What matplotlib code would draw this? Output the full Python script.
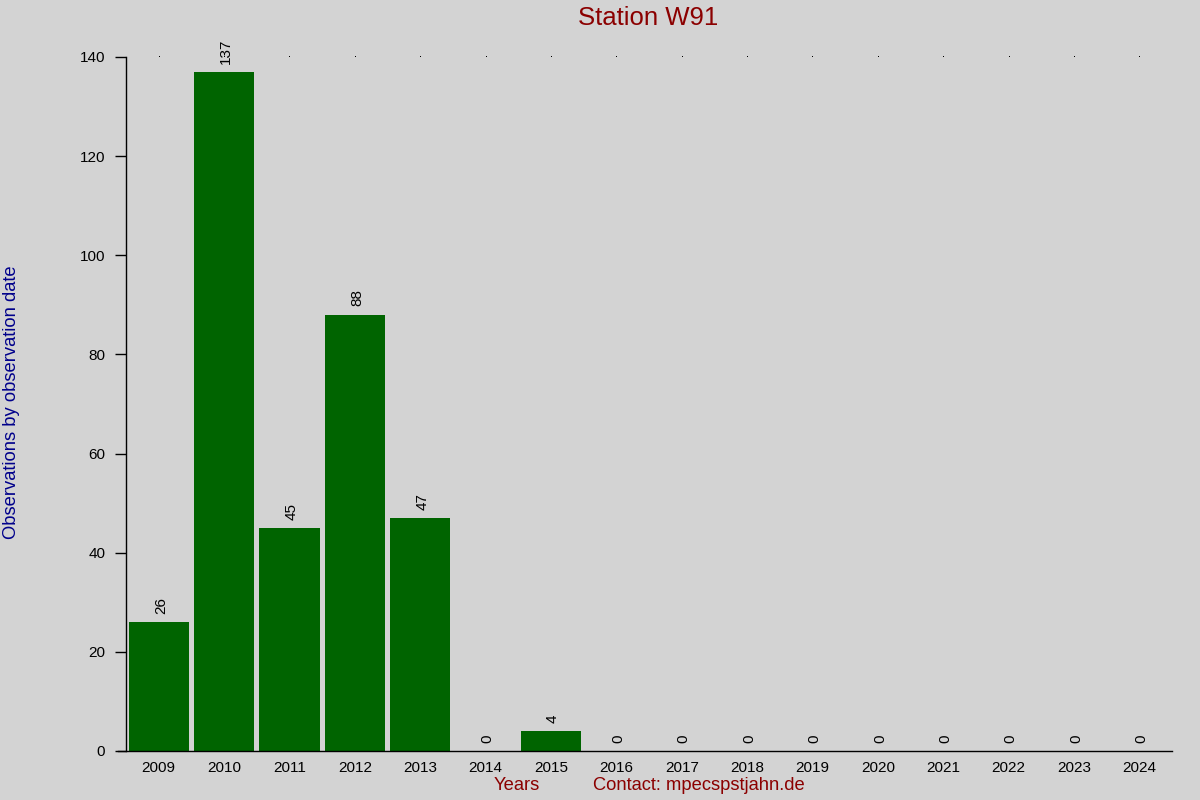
import matplotlib
matplotlib.use("Agg")
import matplotlib.pyplot as plt
import numpy as np

years = ["2009", "2010", "2011", "2012", "2013", "2014", "2015", "2016",
         "2017", "2018", "2019", "2020", "2021", "2022", "2023", "2024"]
counts = [26, 137, 45, 88, 47, 0, 4, 0, 0, 0, 0, 0, 0, 0, 0, 0]
yticks = [0, 20, 40, 60, 80, 100, 120, 140]

plt.rcParams['font.family'] = ['Liberation Sans', 'DejaVu Sans']

bg = "#d3d3d3"
fig = plt.figure(figsize=(12, 8), dpi=100, facecolor=bg)
ax = fig.add_axes([0.105, 0.06125, 0.8717, 0.8675], facecolor=bg)

x = np.arange(len(years))
ax.bar(x, counts, width=0.92, color="#006400", zorder=2)

for xi, c in zip(x, counts):
    ax.annotate(str(c), (xi, c), xytext=(1.5, 6), textcoords="offset points",
                rotation=90, ha="center", va="bottom", fontsize=11, color="black")

# dotted marks along top
ax.plot(x, [yticks[-1]] * len(x), linestyle="none", marker=",", color="black",
        clip_on=False, zorder=3)

ax.set_xlim(-0.5, len(years) - 0.5)
ax.set_ylim(0, 140)
ax.set_xticks(x)
ax.set_xticklabels(years, fontsize=11)
ax.set_yticks(yticks)
ax.set_yticklabels([str(v) for v in yticks], fontsize=11)
ax.tick_params(axis="x", length=0, pad=7)
ax.tick_params(axis="y", length=8, width=1, pad=7)

for s in ["top", "right"]:
    ax.spines[s].set_visible(False)
ax.spines["left"].set_linewidth(1)
ax.spines["bottom"].set_linewidth(1)
ax.spines["bottom"].set_bounds(-0.5 - 8 / 65.4, len(years) - 0.5)

fig.text(0.54, 0.977, "Station W91", ha="center", va="center", fontsize=18.5, color="#8b0000")
fig.text(0.431, 0.0175, "Years", ha="center", va="center", fontsize=13.2, color="#8b0000")
fig.text(0.582, 0.0175, "Contact: mpecspstjahn.de", ha="center", va="center", fontsize=13.2, color="#8b0000")
fig.text(0.0092, 0.4975, "Observations by observation date", ha="center", va="center",
         rotation=90, fontsize=13.2, color="#00008b")

fig.savefig("out.png", dpi=100, facecolor=bg)
